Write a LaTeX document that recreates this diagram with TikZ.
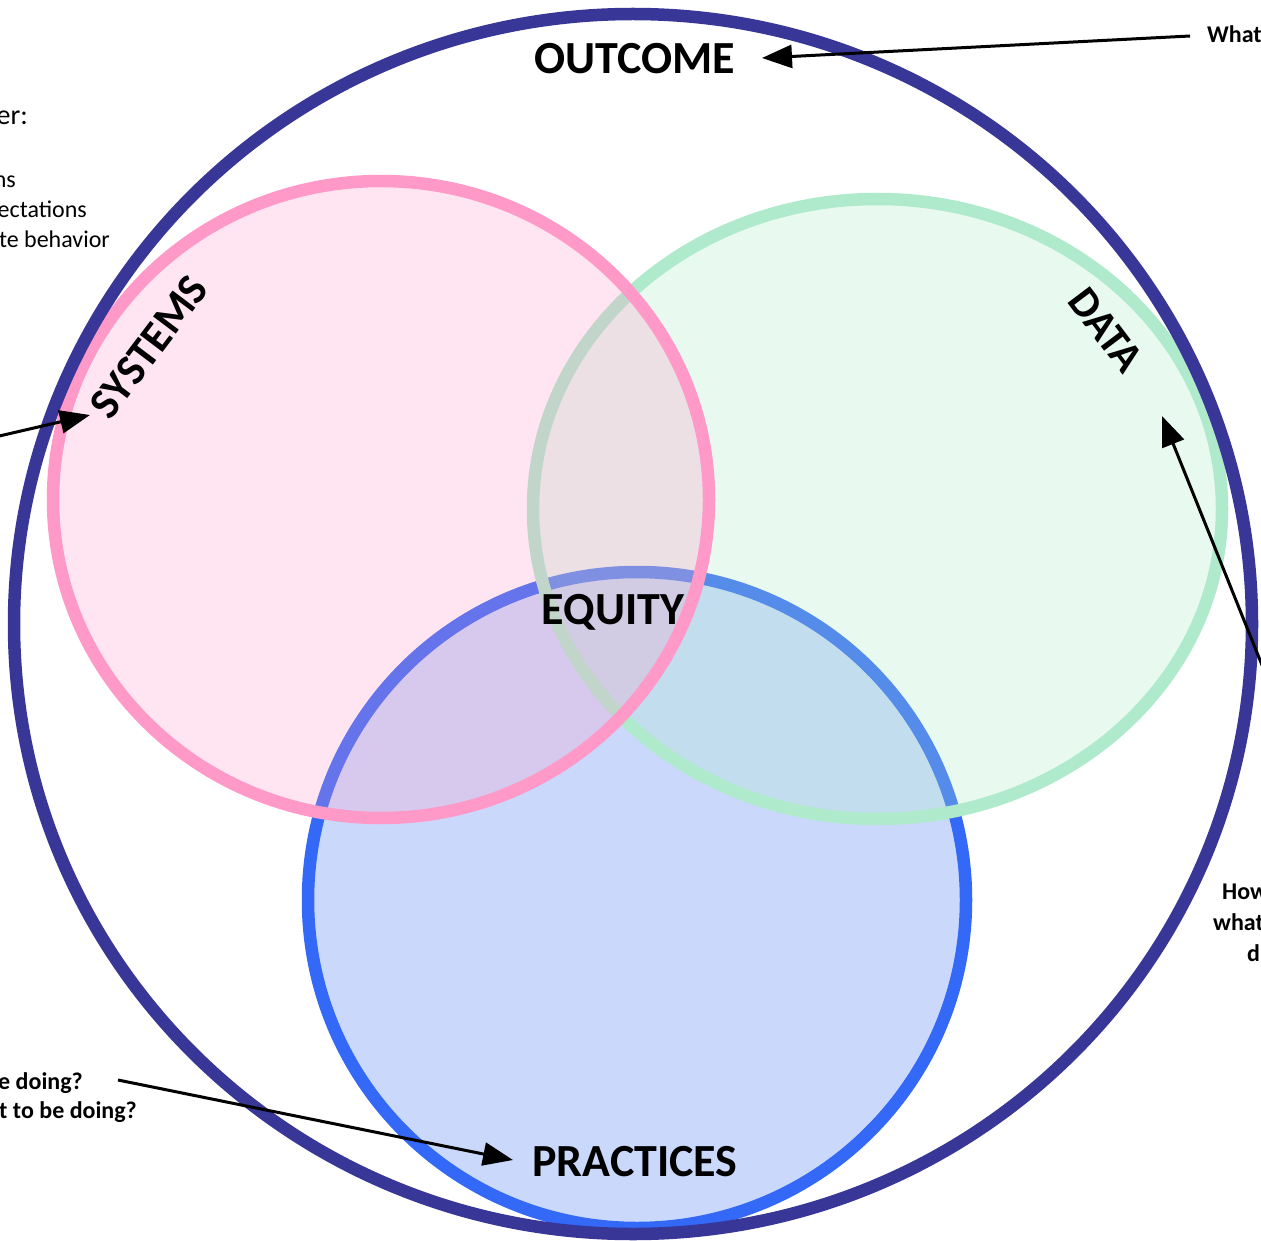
\documentclass[tikz,border=0pt]{standalone}
\usepackage{fontspec}
\setmainfont{Carlito}
\usetikzlibrary{arrows.meta}
\definecolor{navy}{RGB}{56,54,150}
\definecolor{pinkline}{RGB}{255,153,200}
\definecolor{greenline}{RGB}{174,234,203}
\definecolor{blueline}{RGB}{52,104,247}
\definecolor{bluefill}{RGB}{202,217,251}
\tikzset{
  ring/.style={line width=12.5pt},
  bigbold/.style={font=\fontsize{46}{50}\selectfont\bfseries, inner sep=0pt},
  sidebold/.style={font=\fontsize{24}{28}\selectfont\bfseries, inner sep=0pt},
  sidereg/.style={font=\fontsize{24}{28}\selectfont, inner sep=0pt},
  pointer/.style={line width=3pt, -{Triangle[length=30pt,width=23pt]}},
}
\begin{document}
\begin{tikzpicture}[x=1pt,y=-1pt]
\useasboundingbox (0,0) rectangle (1261,1241);
\clip (0,0) rectangle (1261,1241);
\fill[white] (0,0) rectangle (1261,1241);
% circles
\draw[ring, draw=blueline, fill=bluefill] (637,900) ellipse [x radius=329pt, y radius=328pt];
\draw[ring, draw=greenline, fill=greenline, fill opacity=0.28] (877.5,509) ellipse [x radius=344.5pt, y radius=310pt];
\draw[ring, draw=pinkline, fill=pinkline, fill opacity=0.25] (381,499.5) ellipse [x radius=328pt, y radius=318.5pt];
\draw[ring, draw=navy] (633,624) ellipse [x radius=619pt, y radius=610pt];
% main labels
\node[bigbold] (outcome) at (635,59) {OUTCOME};
\node[bigbold] (equity) at (613,612) {EQUITY};
\node[bigbold] (practices) at (635,1162) {PRACTICES};
\node[bigbold, font=\fontsize{44}{48}\selectfont\bfseries, rotate=53] (systems) at (149,347) {SYSTEMS};
\node[bigbold, font=\fontsize{43}{47}\selectfont\bfseries, rotate=-53] (data) at (1106,330) {DATA};
% clipped side texts
\node[sidebold, anchor=base west] (what) at (1207,43) {What};
\node[sidereg, font=\fontsize{28}{32}\selectfont, anchor=base east] (er) at (28,125) {er:};
\node[sidereg, anchor=base east] (ns) at (16,188) {ns};
\node[sidereg, anchor=base east] (ect) at (87,218) {ectations};
\node[sidereg, anchor=base east] (beh) at (110,248) {te behavior};
\node[sidebold, anchor=base west] (how) at (1222,899) {How};
\node[sidebold, anchor=base west] (whatb) at (1213,930) {what};
\node[sidebold, anchor=base west] (dd) at (1247,961) {d};
\node[sidebold, anchor=base east] (doing) at (83,1089) {e doing?};
\node[sidebold, anchor=base east] (tobe) at (137,1118) {t to be doing?};
% arrow ends
\coordinate (oStart) at (1190,36);
\coordinate (oEnd) at (762,58);
\coordinate (sStart) at (-5,437);
\coordinate (sEnd) at (90,415);
\coordinate (dStart) at (1272,690);
\coordinate (dEnd) at (1162,416);
\coordinate (pStart) at (118,1080);
\coordinate (pEnd) at (513,1160);
\draw[pointer] (oStart) -- (oEnd);
\draw[pointer] (sStart) -- (sEnd);
\draw[pointer] (dStart) -- (dEnd);
\draw[pointer] (pStart) -- (pEnd);
\end{tikzpicture}
\end{document}
